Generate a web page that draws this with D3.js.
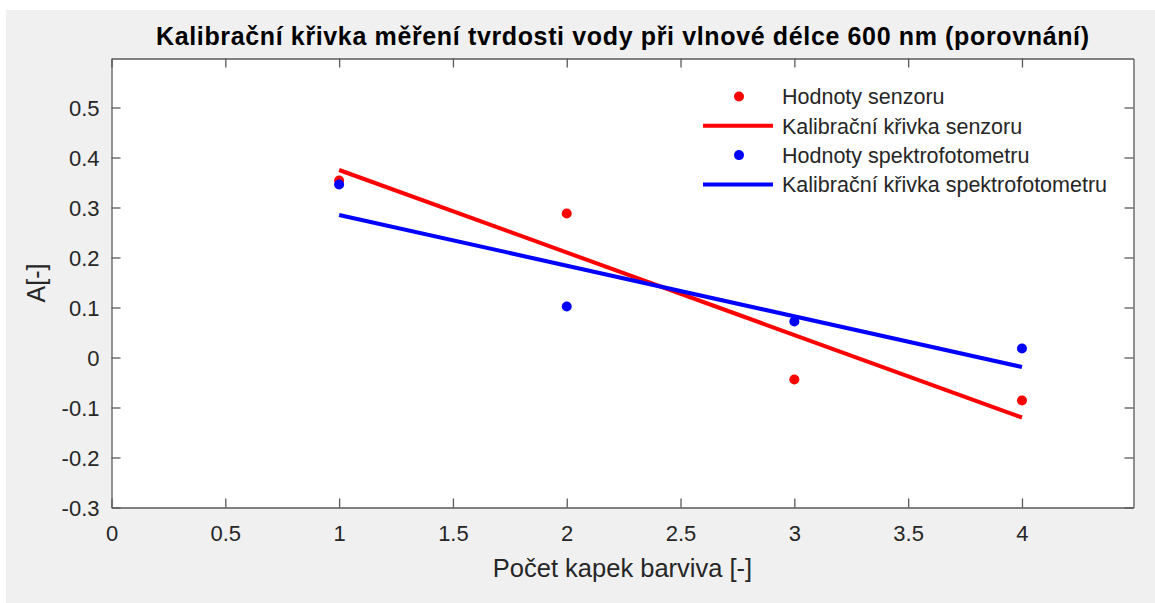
<!DOCTYPE html>
<html>
<head>
<meta charset="utf-8">
<script src="https://cdn.jsdelivr.net/npm/d3@7/dist/d3.min.js"></script>
<style>
  html, body { margin: 0; padding: 0; background: #ffffff; }
  svg { display: block; }
  text { font-family: "Liberation Sans", Arial, Helvetica, sans-serif; }
</style>
</head>
<body>
<svg id="chart" width="1155" height="603"></svg>
<script>
// Measured drops of dye vs. absorbance
const drops = [1, 2, 3, 4];
const sensorValues = [0.354, 0.288, -0.044, -0.086];
const spectroValues = [0.346, 0.102, 0.072, 0.018];

// Calibration lines (end points at x = 1 and x = 4)
const fitX = [1, 4];
const sensorFit = [0.375, -0.120];
const spectroFit = [0.285, -0.019];

const xTicks = [0, 0.5, 1, 1.5, 2, 2.5, 3, 3.5, 4];
const yTicks = [-0.3, -0.2, -0.1, 0, 0.1, 0.2, 0.3, 0.4, 0.5];

const legendLabels = [
  "Hodnoty senzoru",
  "Kalibrační křivka senzoru",
  "Hodnoty spektrofotometru",
  "Kalibrační křivka spektrofotometru"
];

const titleText = "Kalibrační křivka měření tvrdosti vody při vlnové délce 600 nm (porovnání)";
const xLabel = "Počet kapek barviva [-]";
const yLabel = "A[-]";

const RED = "#ff0000", BLUE = "#0000ff", INK = "#262626", AXIS = "#5a5a5a";

const svg = d3.select("#chart");

// figure background
svg.append("rect").attr("x", 6).attr("y", 10).attr("width", 1149).attr("height", 593)
  .attr("fill", "#f0f0f0");

const plot = { left: 111.5, right: 1133.5, top: 58.5, bottom: 507.5 };

const x = d3.scaleLinear().domain([0, 4.49]).range([plot.left, plot.right]);
const y = d3.scaleLinear().domain([-0.3, 0.598]).range([plot.bottom, plot.top]);

// axes area
svg.append("rect")
  .attr("x", plot.left).attr("y", plot.top)
  .attr("width", plot.right - plot.left).attr("height", plot.bottom - plot.top)
  .attr("fill", "#ffffff");

const tickLen = 9;
// plain hyphen for negative numbers
const fmt = d => String(+d.toFixed(2));

// bottom axis (labels) and top mirror
const xAxis = d3.axisBottom(x).tickValues(xTicks).tickSizeInner(-tickLen).tickSizeOuter(0)
  .tickPadding(18).tickFormat(fmt);
const gx = svg.append("g").attr("transform", `translate(0,${plot.bottom})`).call(xAxis);
const gxTop = svg.append("g").attr("transform", `translate(0,${plot.top})`)
  .call(d3.axisTop(x).tickValues(xTicks).tickSizeInner(-tickLen).tickSizeOuter(0).tickFormat(""));

const yAxis = d3.axisLeft(y).tickValues(yTicks).tickSizeInner(-tickLen).tickSizeOuter(0)
  .tickPadding(12).tickFormat(fmt);
const gy = svg.append("g").attr("transform", `translate(${plot.left},0)`).call(yAxis);
const gyRight = svg.append("g").attr("transform", `translate(${plot.right},0)`)
  .call(d3.axisRight(y).tickValues(yTicks).tickSizeInner(-tickLen).tickSizeOuter(0).tickFormat(""));

[gx, gxTop, gy, gyRight].forEach(g => {
  g.attr("font-size", null).attr("font-family", null);
  g.select(".domain").attr("stroke", AXIS).attr("stroke-width", 1.3);
  g.selectAll(".tick line").attr("stroke", AXIS).attr("stroke-width", 1.3);
  g.selectAll(".tick text").attr("fill", INK).style("font-size", "22px")
    .style("font-family", "'Liberation Sans', Arial, sans-serif");
});
gy.selectAll(".tick text").attr("dy", "0.36em");

// calibration lines
const line = d3.line().x(d => x(d[0])).y(d => y(d[1]));
svg.append("path").datum(fitX.map((v, i) => [v, sensorFit[i]]))
  .attr("d", line).attr("fill", "none").attr("stroke", RED).attr("stroke-width", 4);
svg.append("path").datum(fitX.map((v, i) => [v, spectroFit[i]]))
  .attr("d", line).attr("fill", "none").attr("stroke", BLUE).attr("stroke-width", 4);

// measured points
svg.append("g").selectAll("circle").data(drops.map((d, i) => [d, sensorValues[i]]))
  .join("circle").attr("cx", d => x(d[0])).attr("cy", d => y(d[1])).attr("r", 5).attr("fill", RED);
svg.append("g").selectAll("circle").data(drops.map((d, i) => [d, spectroValues[i]]))
  .join("circle").attr("cx", d => x(d[0])).attr("cy", d => y(d[1])).attr("r", 5).attr("fill", BLUE);

// title and axis labels
svg.append("text").attr("x", (plot.left + plot.right) / 2).attr("y", 45)
  .attr("text-anchor", "middle").attr("fill", "#000").style("font-weight", "bold")
  .style("font-size", "25px")
  .attr("textLength", 933).attr("lengthAdjust", "spacing")
  .text(titleText);
svg.append("text").attr("x", (plot.left + plot.right) / 2).attr("y", 577)
  .attr("text-anchor", "middle").attr("fill", INK).style("font-size", "25.5px").text(xLabel);
svg.append("text").attr("transform", `translate(45,283) rotate(-90)`)
  .attr("text-anchor", "middle").attr("fill", INK).style("font-size", "25px").text(yLabel);

// legend
const legendKinds = ["dot", "line", "dot", "line"];
const legendColors = [RED, RED, BLUE, BLUE];
const lg = svg.append("g");
legendLabels.forEach((label, i) => {
  const cy = 96.5 + i * 29.3;
  if (legendKinds[i] === "dot") {
    lg.append("circle").attr("cx", 739).attr("cy", cy).attr("r", 5).attr("fill", legendColors[i]);
  } else {
    lg.append("line").attr("x1", 703).attr("x2", 773).attr("y1", cy).attr("y2", cy)
      .attr("stroke", legendColors[i]).attr("stroke-width", 4);
  }
  lg.append("text").attr("x", 782).attr("y", cy).attr("dy", "0.36em")
    .attr("fill", INK).style("font-size", "21.5px").text(label);
});
</script>
</body>
</html>
